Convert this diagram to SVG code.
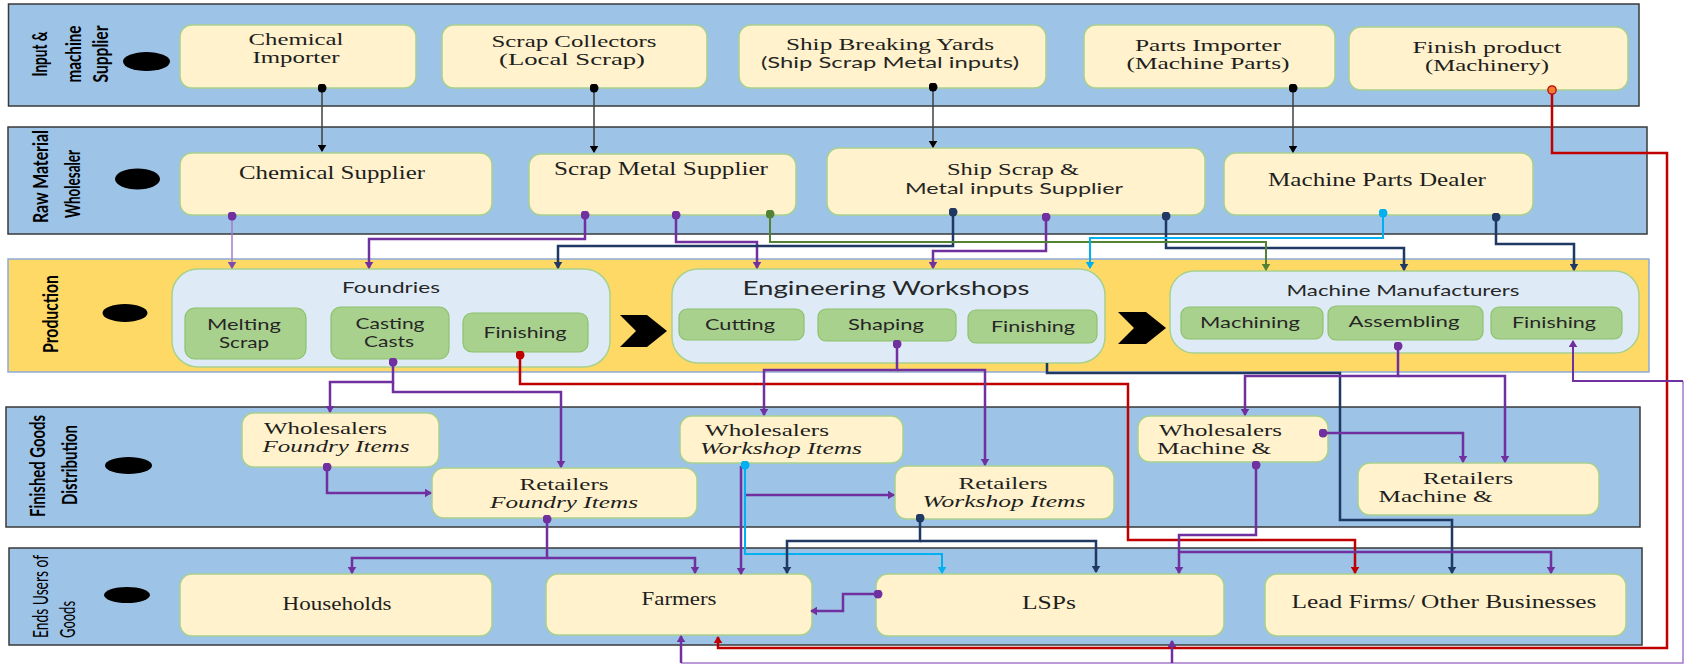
<svg xmlns="http://www.w3.org/2000/svg" width="1684" height="664" viewBox="0 0 1684 664">
<defs>
<style>
.lane{fill:#9DC3E6;stroke:#3A3A3A;stroke-width:1.5}
.lanep{fill:#FFD966;stroke:#8EAADB;stroke-width:1.5}
.node{fill:#FFF2CC;stroke:#A9D18E;stroke-width:1.5}
.cont{fill:#DEEBF7;stroke:#A9D18E;stroke-width:1.5}
.proc{fill:#A9D18E;stroke:#8CC26C;stroke-width:1.2}
.se{font-family:"Liberation Serif","Times New Roman",serif;font-size:19px;fill:#1E1E1E}
.s2{font-size:17px}
.it{font-style:italic}
.sa{font-family:Lato,"Liberation Sans",sans-serif;fill:#262626}
.ll{font-family:Lato,"Liberation Sans",sans-serif;font-size:21px;font-weight:bold;fill:#000}
.lr{font-family:Lato,"Liberation Sans",sans-serif;font-size:21px;fill:#000}
.m{text-anchor:middle}
.c{fill:none}
.k{stroke:#404040;stroke-width:1.5}
.p{stroke:#7030A0;stroke-width:2.5}
.p2{stroke:#7030A0;stroke-width:2}
.lp{stroke:#A47ACB;stroke-width:1.5}
.n{stroke:#1F3864;stroke-width:2.5}
.g{stroke:#548235;stroke-width:2}
.cy{stroke:#00B0F0;stroke-width:2}
.r{stroke:#C00000;stroke-width:2.5}
</style>
<marker id="ak" viewBox="0 0 8 10" refX="7" refY="5" markerWidth="7.2" markerHeight="9" markerUnits="userSpaceOnUse" orient="auto"><path d="M0,0L8,5L0,10z" fill="#000"/></marker>
<marker id="ap" viewBox="0 0 8 10" refX="7" refY="5" markerWidth="7.2" markerHeight="9" markerUnits="userSpaceOnUse" orient="auto"><path d="M0,0L8,5L0,10z" fill="#7030A0"/></marker>
<marker id="alp" viewBox="0 0 8 10" refX="7" refY="5" markerWidth="7.2" markerHeight="9" markerUnits="userSpaceOnUse" orient="auto"><path d="M0,0L8,5L0,10z" fill="#7E4CB0"/></marker>
<marker id="an" viewBox="0 0 8 10" refX="7" refY="5" markerWidth="7.2" markerHeight="9" markerUnits="userSpaceOnUse" orient="auto"><path d="M0,0L8,5L0,10z" fill="#1F3864"/></marker>
<marker id="ag" viewBox="0 0 8 10" refX="7" refY="5" markerWidth="7.2" markerHeight="9" markerUnits="userSpaceOnUse" orient="auto"><path d="M0,0L8,5L0,10z" fill="#548235"/></marker>
<marker id="acy" viewBox="0 0 8 10" refX="7" refY="5" markerWidth="7.2" markerHeight="9" markerUnits="userSpaceOnUse" orient="auto"><path d="M0,0L8,5L0,10z" fill="#00B0F0"/></marker>
<marker id="ar" viewBox="0 0 8 10" refX="7" refY="5" markerWidth="7.2" markerHeight="9" markerUnits="userSpaceOnUse" orient="auto"><path d="M0,0L8,5L0,10z" fill="#C00000"/></marker>
<marker id="dk" viewBox="0 0 10 10" refX="5" refY="5" markerWidth="9" markerHeight="9" markerUnits="userSpaceOnUse"><circle cx="5" cy="5" r="5" fill="#000"/></marker>
<marker id="dp" viewBox="0 0 10 10" refX="5" refY="5" markerWidth="9" markerHeight="9" markerUnits="userSpaceOnUse"><circle cx="5" cy="5" r="5" fill="#7030A0"/></marker>
<marker id="dn" viewBox="0 0 10 10" refX="5" refY="5" markerWidth="9" markerHeight="9" markerUnits="userSpaceOnUse"><circle cx="5" cy="5" r="5" fill="#1F3864"/></marker>
<marker id="dg" viewBox="0 0 10 10" refX="5" refY="5" markerWidth="9" markerHeight="9" markerUnits="userSpaceOnUse"><circle cx="5" cy="5" r="5" fill="#548235"/></marker>
<marker id="dcy" viewBox="0 0 10 10" refX="5" refY="5" markerWidth="9" markerHeight="9" markerUnits="userSpaceOnUse"><circle cx="5" cy="5" r="5" fill="#00B0F0"/></marker>
<marker id="dr" viewBox="0 0 10 10" refX="5" refY="5" markerWidth="9" markerHeight="9" markerUnits="userSpaceOnUse"><circle cx="5" cy="5" r="5" fill="#C00000"/></marker>
<marker id="do" viewBox="0 0 12 12" refX="6" refY="6" markerWidth="10" markerHeight="10" markerUnits="userSpaceOnUse"><circle cx="6" cy="6" r="5" fill="#ED7D31" stroke="#C00000" stroke-width="1.5"/></marker>
</defs>
<rect width="1684" height="664" fill="#fff"/>

<g id="lanes">
<rect class="lane" x="8.5" y="4" width="1630.5" height="102"/>
<rect class="lane" x="8" y="127" width="1639" height="107"/>
<rect class="lanep" x="8" y="259" width="1641" height="113"/>
<rect class="lane" x="6" y="407" width="1634" height="120"/>
<rect class="lane" x="9" y="548" width="1633" height="97"/>
<ellipse cx="146.5" cy="61.5" rx="23.5" ry="9.5"/>
<ellipse cx="137.5" cy="179" rx="22.5" ry="10.5"/>
<ellipse cx="125" cy="313" rx="22.5" ry="9"/>
<ellipse cx="128.5" cy="465.5" rx="23.5" ry="8.5"/>
<ellipse cx="127" cy="595" rx="23" ry="8"/>
<text class="ll m" transform="translate(47,54) rotate(-90)" textLength="45" lengthAdjust="spacingAndGlyphs">Input &amp;</text>
<text class="ll m" transform="translate(81,54) rotate(-90)" textLength="57" lengthAdjust="spacingAndGlyphs">machine</text>
<text class="ll m" transform="translate(108,54) rotate(-90)" textLength="57" lengthAdjust="spacingAndGlyphs">Supplier</text>
<text class="ll m" transform="translate(48,176.5) rotate(-90)" textLength="93" lengthAdjust="spacingAndGlyphs">Raw Material</text>
<text class="ll m" transform="translate(80,184) rotate(-90)" textLength="68" lengthAdjust="spacingAndGlyphs">Wholesaler</text>
<text class="ll m" transform="translate(58,314) rotate(-90)" textLength="78" lengthAdjust="spacingAndGlyphs">Production</text>
<text class="ll m" transform="translate(45,466) rotate(-90)" textLength="102" lengthAdjust="spacingAndGlyphs">Finished Goods</text>
<text class="ll m" transform="translate(77,465) rotate(-90)" textLength="80" lengthAdjust="spacingAndGlyphs">Distribution</text>
<text class="lr" transform="translate(48,638) rotate(-90)" textLength="83" lengthAdjust="spacingAndGlyphs">Ends Users of</text>
<text class="lr" transform="translate(75,638) rotate(-90)" textLength="37" lengthAdjust="spacingAndGlyphs">Goods</text>
</g>

<g id="chemical-importer"><rect class="node" x="180" y="25" width="236" height="63" rx="12"/>
<text class="se s2 m" x="296" y="45" textLength="95" lengthAdjust="spacingAndGlyphs">Chemical</text>
<text class="se s2 m" x="296" y="63" textLength="87" lengthAdjust="spacingAndGlyphs">Importer</text></g>
<g id="scrap-collectors"><rect class="node" x="442" y="25" width="265" height="63" rx="12"/>
<text class="se s2 m" x="574" y="47" textLength="165" lengthAdjust="spacingAndGlyphs">Scrap Collectors</text>
<text class="se s2 m" x="572" y="65" textLength="146" lengthAdjust="spacingAndGlyphs">(Local Scrap)</text></g>
<g id="ship-breaking-yards"><rect class="node" x="739" y="25" width="307" height="63" rx="12"/>
<text class="se s2 m" x="890" y="50" textLength="208" lengthAdjust="spacingAndGlyphs">Ship Breaking Yards</text>
<text class="sa m" x="890" y="68" font-size="15" textLength="258" lengthAdjust="spacingAndGlyphs">(Ship Scrap Metal inputs)</text></g>
<g id="parts-importer"><rect class="node" x="1084" y="25" width="251" height="63" rx="12"/>
<text class="se s2 m" x="1208" y="51" textLength="146" lengthAdjust="spacingAndGlyphs">Parts Importer</text>
<text class="se s2 m" x="1208" y="69" textLength="163" lengthAdjust="spacingAndGlyphs">(Machine Parts)</text></g>
<g id="finish-product"><rect class="node" x="1349" y="27" width="279" height="63" rx="12"/>
<text class="se s2 m" x="1487" y="53" textLength="149" lengthAdjust="spacingAndGlyphs">Finish product</text>
<text class="se s2 m" x="1487" y="71" textLength="124" lengthAdjust="spacingAndGlyphs">(Machinery)</text></g>

<g id="chemical-supplier"><rect class="node" x="180" y="153" width="312" height="62" rx="12"/>
<text class="se m" x="332" y="179" textLength="186" lengthAdjust="spacingAndGlyphs">Chemical Supplier</text></g>
<g id="scrap-metal-supplier"><rect class="node" x="529" y="154" width="267" height="61" rx="12"/>
<text class="se m" x="661" y="175" textLength="214" lengthAdjust="spacingAndGlyphs">Scrap Metal Supplier</text></g>
<g id="ship-scrap-supplier"><rect class="node" x="827" y="148" width="378" height="67" rx="12"/>
<text class="se s2 m" x="1013" y="175" textLength="132" lengthAdjust="spacingAndGlyphs">Ship Scrap &amp;</text>
<text class="sa m" x="1014" y="194" font-size="15" textLength="218" lengthAdjust="spacingAndGlyphs">Metal inputs Supplier</text></g>
<g id="machine-parts-dealer"><rect class="node" x="1224" y="153" width="309" height="62" rx="12"/>
<text class="se m" x="1377" y="186" textLength="218" lengthAdjust="spacingAndGlyphs">Machine Parts Dealer</text></g>

<g id="foundries"><rect class="cont" x="172" y="269" width="438" height="98" rx="26"/>
<text class="sa m" x="391" y="293" font-size="16" textLength="98" lengthAdjust="spacingAndGlyphs">Foundries</text>
<rect class="proc" x="185" y="308" width="121" height="51" rx="10"/>
<text class="sa m" x="244" y="330" font-size="15" textLength="74" lengthAdjust="spacingAndGlyphs">Melting</text>
<text class="sa m" x="244" y="348" font-size="15" textLength="50" lengthAdjust="spacingAndGlyphs">Scrap</text>
<rect class="proc" x="331" y="307" width="118" height="52" rx="10"/>
<text class="sa m" x="390" y="329" font-size="15" textLength="69" lengthAdjust="spacingAndGlyphs">Casting</text>
<text class="sa m" x="389" y="347" font-size="15" textLength="50" lengthAdjust="spacingAndGlyphs">Casts</text>
<rect class="proc" x="463" y="313" width="125" height="39" rx="9"/>
<text class="sa m" x="525" y="338" font-size="16" textLength="83" lengthAdjust="spacingAndGlyphs">Finishing</text></g>
<polygon id="chevron-1" points="620,315 647,315 667,331 647,347 620,347 636,331" fill="#000"/>
<g id="engineering-workshops"><rect class="cont" x="672" y="269" width="433" height="94" rx="26"/>
<text class="sa m" x="886" y="295" font-size="20" textLength="287" lengthAdjust="spacingAndGlyphs">Engineering Workshops</text>
<rect class="proc" x="679" y="309" width="125" height="31" rx="8"/>
<text class="sa m" x="740" y="330" font-size="16" textLength="70" lengthAdjust="spacingAndGlyphs">Cutting</text>
<rect class="proc" x="818" y="309" width="138" height="32" rx="8"/>
<text class="sa m" x="886" y="330" font-size="16" textLength="76" lengthAdjust="spacingAndGlyphs">Shaping</text>
<rect class="proc" x="968" y="310" width="129" height="33" rx="8"/>
<text class="sa m" x="1033" y="332" font-size="16" textLength="84" lengthAdjust="spacingAndGlyphs">Finishing</text></g>
<polygon id="chevron-2" points="1118,312 1146,312 1166,328 1146,344 1118,344 1134,328" fill="#000"/>
<g id="machine-manufacturers"><rect class="cont" x="1170" y="271" width="469" height="82" rx="24"/>
<text class="sa m" x="1403" y="296" font-size="15" textLength="233" lengthAdjust="spacingAndGlyphs">Machine Manufacturers</text>
<rect class="proc" x="1181" y="307" width="142" height="32" rx="8"/>
<text class="sa m" x="1250" y="328" font-size="16" textLength="100" lengthAdjust="spacingAndGlyphs">Machining</text>
<rect class="proc" x="1328" y="306" width="155" height="34" rx="8"/>
<text class="sa m" x="1404" y="327" font-size="16" textLength="111" lengthAdjust="spacingAndGlyphs">Assembling</text>
<rect class="proc" x="1491" y="307" width="131" height="32" rx="8"/>
<text class="sa m" x="1554" y="328" font-size="16" textLength="84" lengthAdjust="spacingAndGlyphs">Finishing</text></g>

<g id="wholesalers-foundry"><rect class="node" x="242" y="413" width="197" height="54" rx="12"/>
<text class="se s2" x="264" y="434" textLength="123" lengthAdjust="spacingAndGlyphs">Wholesalers</text>
<text class="se s2 it" x="262.5" y="452" textLength="147" lengthAdjust="spacingAndGlyphs">Foundry Items</text></g>
<g id="retailers-foundry"><rect class="node" x="432" y="468" width="265" height="50" rx="12"/>
<text class="se s2 m" x="564" y="490" textLength="89" lengthAdjust="spacingAndGlyphs">Retailers</text>
<text class="se s2 it m" x="564" y="508" textLength="148" lengthAdjust="spacingAndGlyphs">Foundry Items</text></g>
<g id="wholesalers-workshop"><rect class="node" x="680" y="416" width="223" height="47" rx="12"/>
<text class="se s2" x="705" y="436" textLength="124" lengthAdjust="spacingAndGlyphs">Wholesalers</text>
<text class="se s2 it" x="700" y="454" textLength="162" lengthAdjust="spacingAndGlyphs">Workshop Items</text></g>
<g id="retailers-workshop"><rect class="node" x="895" y="466" width="219" height="53" rx="12"/>
<text class="se s2 m" x="1003" y="489" textLength="89" lengthAdjust="spacingAndGlyphs">Retailers</text>
<text class="se s2 it m" x="1004" y="507" textLength="163" lengthAdjust="spacingAndGlyphs">Workshop Items</text></g>
<g id="wholesalers-machine"><rect class="node" x="1138" y="416" width="190" height="46" rx="12"/>
<text class="se s2" x="1159" y="436" textLength="123" lengthAdjust="spacingAndGlyphs">Wholesalers</text>
<text class="se s2" x="1157" y="454" textLength="114" lengthAdjust="spacingAndGlyphs">Machine &amp;</text></g>
<g id="retailers-machine"><rect class="node" x="1358" y="463" width="241" height="52" rx="12"/>
<text class="se s2 m" x="1468" y="484" textLength="90" lengthAdjust="spacingAndGlyphs">Retailers</text>
<text class="se s2" x="1378.5" y="502" textLength="114" lengthAdjust="spacingAndGlyphs">Machine &amp;</text></g>

<g id="households"><rect class="node" x="180" y="574" width="312" height="62" rx="12"/>
<text class="se m" x="337" y="610" textLength="109" lengthAdjust="spacingAndGlyphs">Households</text></g>
<g id="farmers"><rect class="node" x="546" y="574" width="266" height="61" rx="12"/>
<text class="se m" x="679" y="605" textLength="75" lengthAdjust="spacingAndGlyphs">Farmers</text></g>
<g id="lsps"><rect class="node" x="876" y="574" width="348" height="62" rx="12"/>
<text class="se m" x="1049" y="609" textLength="54" lengthAdjust="spacingAndGlyphs">LSPs</text></g>
<g id="lead-firms"><rect class="node" x="1265" y="574" width="361" height="62" rx="12"/>
<text class="se m" x="1444" y="608" textLength="305" lengthAdjust="spacingAndGlyphs">Lead Firms/ Other Businesses</text></g>

<g id="connectors">
<path class="c k" d="M322,88V151" marker-start="url(#dk)" marker-end="url(#ak)"/>
<path class="c k" d="M594,88V152" marker-start="url(#dk)" marker-end="url(#ak)"/>
<path class="c k" d="M933,87V147" marker-start="url(#dk)" marker-end="url(#ak)"/>
<path class="c k" d="M1293,88V152" marker-start="url(#dk)" marker-end="url(#ak)"/>
<path class="c r" d="M1552,90V153H1667V648H718V637" marker-start="url(#do)" marker-end="url(#ar)"/>
<path class="c r" d="M520,355V384H1128V540H1355V573" marker-start="url(#dr)" marker-end="url(#ar)"/>
<path class="c lp" d="M232,216V268" marker-start="url(#dp)" marker-end="url(#alp)"/>
<path class="c p" d="M585,215V239H369V268" marker-start="url(#dp)" marker-end="url(#ap)"/>
<path class="c p" d="M676,215V242H757V268" marker-start="url(#dp)" marker-end="url(#ap)"/>
<path class="c p" d="M1046,217V251H933V268" marker-start="url(#dp)" marker-end="url(#ap)"/>
<path class="c n" d="M953,212V246H558V268" marker-start="url(#dn)" marker-end="url(#an)"/>
<path class="c n" d="M1166,216V248H1404V270" marker-start="url(#dn)" marker-end="url(#an)"/>
<path class="c n" d="M1496,217V244H1574V270" marker-start="url(#dn)" marker-end="url(#an)"/>
<path class="c g" d="M770,214V242H1266V270" marker-start="url(#dg)" marker-end="url(#ag)"/>
<path class="c cy" d="M1383,213V238H1090V268" marker-start="url(#dcy)" marker-end="url(#acy)"/>
<path class="c p" d="M393,362V382H330V412" marker-start="url(#dp)" marker-end="url(#ap)"/>
<path class="c p" d="M393,382V392H561V467" marker-end="url(#ap)"/>
<path class="c p" d="M327,467V493H431" marker-start="url(#dp)" marker-end="url(#ap)"/>
<path class="c p" d="M897,344V370H764V415" marker-start="url(#dp)" marker-end="url(#ap)"/>
<path class="c p" d="M897,370H985V465" marker-end="url(#ap)"/>
<path class="c n" d="M1047,363V373H1340V520H1452V573" marker-end="url(#an)"/>
<path class="c p" d="M1398,346V376H1245V415" marker-start="url(#dp)" marker-end="url(#ap)"/>
<path class="c p" d="M1398,376H1505V462" marker-end="url(#ap)"/>
<path class="c p" d="M1323,433H1463V462" marker-start="url(#dp)" marker-end="url(#ap)"/>
<path class="c p" d="M1256,465V535H1179V573" marker-start="url(#dp)" marker-end="url(#ap)"/>
<path class="c p" d="M1179,552H1551V573" marker-end="url(#ap)"/>
<path class="c p" d="M547,519V558H352V573" marker-start="url(#dp)" marker-end="url(#ap)"/>
<path class="c p" d="M547,558H695V573" marker-end="url(#ap)"/>
<path class="c p" d="M741,466V574" marker-end="url(#ap)"/>
<path class="c p" d="M744,495H894" marker-end="url(#ap)"/>
<path class="c cy" d="M745,465V554H942V573" marker-start="url(#dcy)" marker-end="url(#acy)"/>
<path class="c n" d="M920,518V541H787V573" marker-start="url(#dn)" marker-end="url(#an)"/>
<path class="c n" d="M920,541H1096V572" marker-end="url(#an)"/>
<path class="c p" d="M878,594H843V611H811" marker-start="url(#dp)" marker-end="url(#ap)"/>
<path class="c lp" d="M1683,381V663H681"/>
<path class="c p" d="M681,663V636" marker-end="url(#ap)"/>
<path class="c p" d="M1172,663V641" marker-end="url(#ap)"/>
<path class="c p2" d="M1683,381H1573V341" marker-end="url(#ap)"/>
</g>
</svg>
